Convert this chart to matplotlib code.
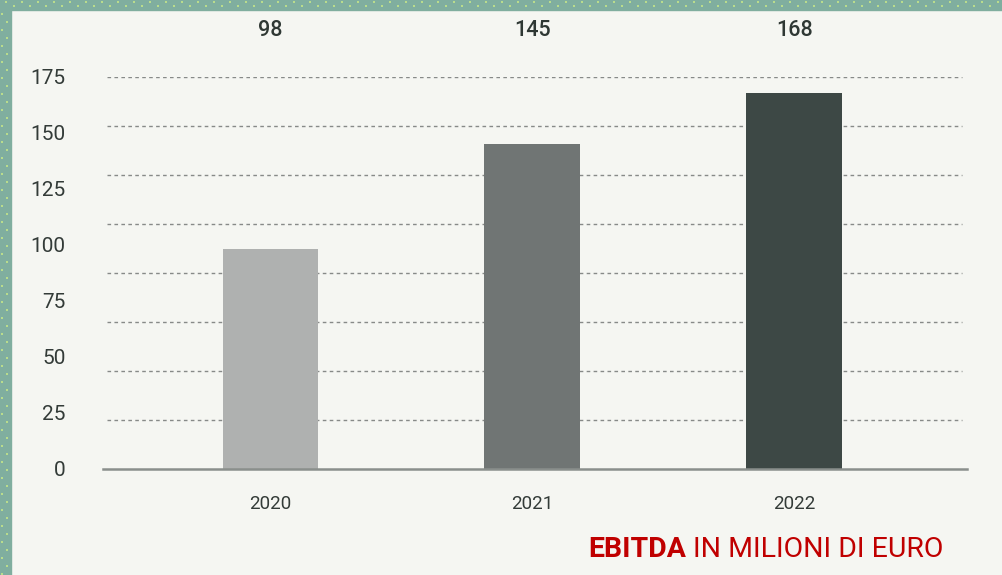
import numpy as np
from matplotlib import pyplot as plt
from matplotlib.patches import Rectangle
import matplotlib.transforms as mtransforms

plt.rcParams['font.family'] = ['Roboto', 'DejaVu Sans']

anni = ['2020', '2021', '2022']
ebitda = [98, 145, 168]
colori = ['#afb1b0', '#707574', '#3d4845']
y_ticks = [0, 25, 50, 75, 100, 125, 150, 175]

W, H = 1002, 575
sfondo = '#f5f6f2'
fig = plt.figure(figsize=(W / 100, H / 100), dpi=100, facecolor=sfondo)

# cornice verde a pois in alto e a sinistra
fig.patches.append(Rectangle((0, 1 - 10 / H), 1, 10 / H, transform=fig.transFigure,
                             color='#80ae9f', zorder=0))
fig.patches.append(Rectangle((0, 0), 11 / W, 1, transform=fig.transFigure,
                             color='#80ae9f', zorder=0))
dx, dy = [], []
for r, yy in enumerate([2, 6]):
    for xx in np.arange(8 * r + 6, W, 16):
        dx.append(xx); dy.append(yy)
for c, xx in enumerate([2, 7]):
    for yy in np.arange(8 * c + 14, H, 16):
        dx.append(xx); dy.append(yy)
fig.add_artist(plt.Line2D([x / W for x in dx], [1 - y / H for y in dy], ls='none',
                          marker='s', ms=1.6, mew=0, color='#b9dc8c',
                          transform=fig.transFigure))

ax = fig.add_axes([103 / W, (H - 469) / H, 864 / W, 392 / H])
ax.set_facecolor(sfondo)
x = np.arange(len(anni))
ax.bar(x, ebitda, width=0.366, color=colori, zorder=3)
ax.set_xlim(-0.64, 2.66)
ax.set_ylim(0, 175)

# le linee tratteggiate nell'originale dividono l'asse in 8 parti
for t in np.linspace(0, 175, 9)[1:]:
    ax.axhline(t, xmin=4 / 864, xmax=859 / 864, color='#878a88', lw=1,
               ls=(0, (2.6, 2.4)), zorder=1)

for s in ['top', 'right', 'left']:
    ax.spines[s].set_visible(False)
ax.spines['bottom'].set_color('#8a8f8c')
ax.spines['bottom'].set_linewidth(1.8)
ax.spines['bottom'].set_zorder(4)

ax.set_yticks(y_ticks)
ax.set_xticks(x, anni)
ax.tick_params(axis='y', length=0, pad=27, labelsize=15, labelcolor='#333b38')
ax.tick_params(axis='x', length=0, pad=19, labelsize=13.5, labelcolor='#333b38')

trans = mtransforms.blended_transform_factory(ax.transData, fig.transFigure)
for xi, v in zip(x, ebitda):
    ax.text(xi, 1 - 30 / H, str(v), transform=trans, ha='center', va='center',
            fontsize=15.5, fontweight='medium', color='#2f3834')

fig.text(588 / W, 1 - 557 / H, 'EBITDA', fontsize=20.5, fontweight='bold',
         color='#c00000', ha='left', va='baseline')
fig.text(693 / W, 1 - 557 / H, 'IN MILIONI DI EURO', fontsize=20.5,
         color='#c00000', ha='left', va='baseline')

fig.savefig('out.png', dpi=100, facecolor=sfondo)
